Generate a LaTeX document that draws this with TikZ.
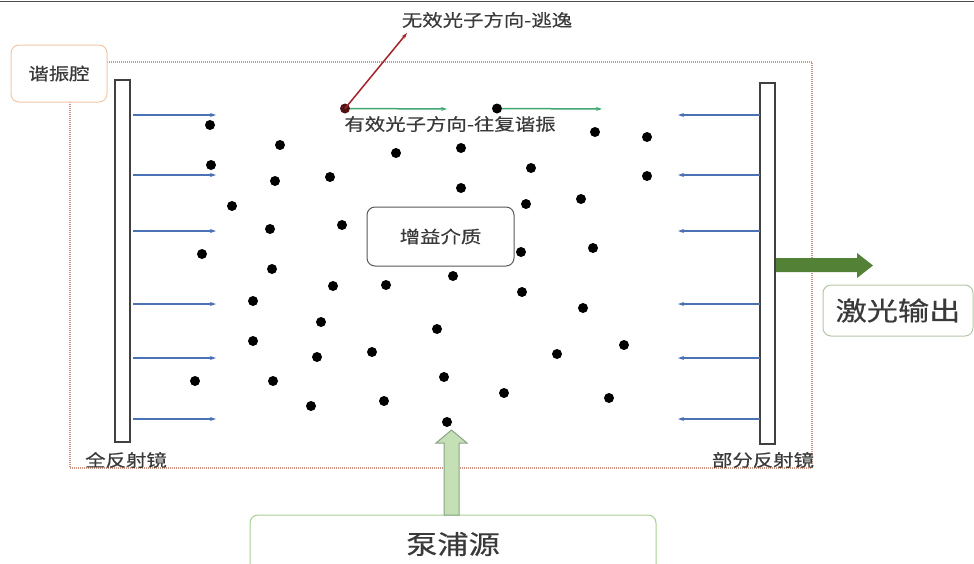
\documentclass[tikz,border=0pt]{standalone}
\usepackage{fontspec}
\newfontfamily\cjk[FakeStretch=1.2,FakeBold=0.5]{Noto Sans CJK SC}
\usetikzlibrary{arrows.meta}
\definecolor{txt}{HTML}{3A3A3A}
\definecolor{cavc}{HTML}{CF9585}
\definecolor{peach}{HTML}{F2C6A8}
\definecolor{beamblue}{HTML}{4A72B5}
\definecolor{beamgreen}{HTML}{3FA872}
\definecolor{escred}{HTML}{A3222B}
\definecolor{laser}{HTML}{538135}
\definecolor{pumpfill}{HTML}{C5E0B4}
\definecolor{pumpdraw}{HTML}{8AA38A}
\definecolor{pumpbox}{HTML}{A9CF92}
\definecolor{outbox}{HTML}{B4C6A8}
\tikzset{
  small/.style={font=\cjk\fontsize{17}{20}\selectfont, text=txt, inner sep=0pt},
  big/.style={font=\cjk\fontsize{26}{30}\selectfont, text=txt, inner sep=0pt},
  rbox/.style={draw, rounded corners=8pt, fill=white, line width=1pt},
  mirror/.style={draw=black!75, line width=1.4pt, fill=white, inner sep=0pt},
  dot/.style={circle, fill=black, minimum size=10pt, inner sep=0pt},
  bluearrow/.style={draw=beamblue, line width=1.3pt, -{Stealth[length=6pt,width=4pt]}},
  greenarrow/.style={draw=beamgreen, line width=1.5pt, -{Stealth[length=6pt,width=4pt]}},
  redarrow/.style={draw=escred, line width=1.5pt, -{Stealth[length=6pt,width=4pt]}},
  cavity/.style={draw=cavc, line width=1.2pt, dash pattern=on 1pt off 1pt}
}
\begin{document}
\begin{tikzpicture}[x=1pt,y=-1pt]
\useasboundingbox (0,0) rectangle (974,563);
\clip (0,0) rectangle (974,563);
\draw[black!70, line width=1.5pt] (0,1.5) -- (974,1.5);

% cavity
\draw[cavity] (70,62) rectangle (812,468);
\node[rbox, draw=peach, minimum width=96pt, minimum height=57pt, small] (res) at (59,73.5) {谐振腔};

% mirrors
\node[mirror, minimum width=15pt, minimum height=362pt] (lm) at (122.5,261) {};
\node[mirror, minimum width=15pt, minimum height=361pt] (rm) at (767.5,263.5) {};
\node[small] (lml) at (126,460) {全反射镜};
\node[small] (rml) at (763,460) {部分反射镜};

% beams
\foreach \yy [count=\i] in {115,175,231,304,358,419}{
  \coordinate (ls\i) at (133,\yy);
  \coordinate (le\i) at (216,\yy);
  \draw[bluearrow] (ls\i) -- (le\i);
  \coordinate (rs\i) at (760,\yy);
  \coordinate (re\i) at (678,\yy);
  \draw[bluearrow] (rs\i) -- (re\i);
}

% dots
\foreach \px/\py [count=\i] in {
 210/125, 280/145, 396/153, 461/148, 595/132, 647/137,
 211/165, 275/181, 330/177, 461/188, 531/168, 647/176,
 232/206, 270/229, 342/225, 526/204, 581/199,
 202/254, 272/269, 453/276, 521/252, 593/248,
 333/286, 386/285, 253/301, 522/292, 583/308,
 321/322, 437/329,
 253/341, 317/357, 372/352, 557/354, 624/345,
 195/381, 273/381, 444/377,
 311/406, 384/401, 504/393, 609/398,
 447/422}{
  \node[dot] (d\i) at (\px,\py) {};
}

% photon directions
\node[dot, fill=escred!50!black] (rd) at (345,108.5) {};
\node[dot] (gd) at (497,108.5) {};
\coordinate (esc) at (407,33);
\coordinate (g1) at (447,109);
\coordinate (g2) at (602,109);
\draw[greenarrow] (rd.east) -- (g1);
\draw[greenarrow] (gd.east) -- (g2);
\draw[redarrow] (rd.center) -- (esc);
\node[small] (esclbl) at (487,20) {无效光子方向-逃逸};
\node[small] (efflbl) at (450,124) {有效光子方向-往复谐振};

% gain medium
\node[rbox, draw=black!65, minimum width=147pt, minimum height=59pt, small] (gain) at (440.5,236.5) {增益介质};

% laser output
\fill[laser] (776,258) -- (857,258) -- (857,253) -- (873,265.5) -- (857,278) -- (857,272) -- (776,272) -- cycle;
\node[rbox, draw=outbox, minimum width=150pt, minimum height=51pt, big] (out) at (898,310.5) {激光输出};

% pump
\node[rbox, draw=pumpbox, minimum width=406pt, minimum height=58pt, big] (pump) at (453,544) {泵浦源};
\filldraw[fill=pumpfill, draw=pumpdraw, line width=1pt]
  (444,515) -- (444,443) -- (436,443) -- (451.5,430) -- (467,443) -- (459,443) -- (459,515) -- cycle;
\end{tikzpicture}
\end{document}
